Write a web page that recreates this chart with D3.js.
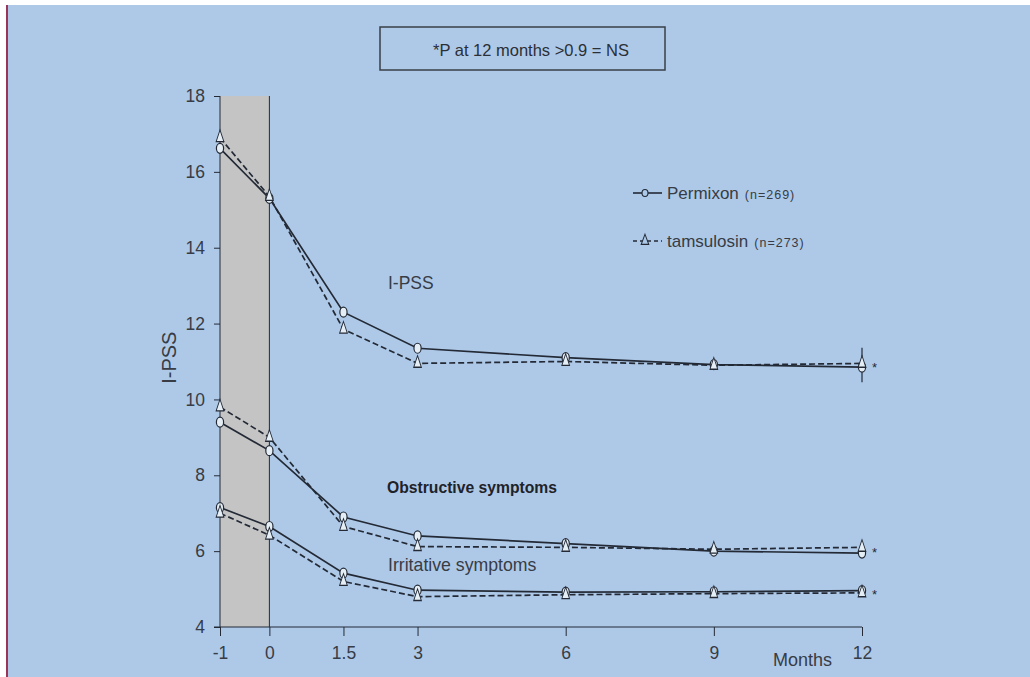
<!DOCTYPE html>
<html>
<head>
<meta charset="utf-8">
<script src="https://cdn.jsdelivr.net/npm/d3@7/dist/d3.min.js"></script>
<style>
  body { margin: 0; background: #fff; }
  svg { display: block; font-family: "Liberation Sans", Arial, sans-serif; }
</style>
</head>
<body>
<svg id="chart" width="1030" height="677"></svg>
<script>
// months of follow-up (-1 = run-in)
const months = [-1, 0, 1.5, 3, 6, 9, 12];
const xTicks = [-1, 0, 1.5, 3, 6, 9, 12];
const yTicks = [4, 6, 8, 10, 12, 14, 16, 18];

// I-PSS total
const ipssPermixon = [16.62, 15.3, 12.3, 11.35, 11.1, 10.92, 10.85];
const ipssTamsulosin = [16.9, 15.35, 11.85, 10.95, 11.0, 10.9, 10.95];
// obstructive subscore
const obstrPermixon = [9.4, 8.65, 6.9, 6.4, 6.2, 6.0, 5.95];
const obstrTamsulosin = [9.8, 9.0, 6.65, 6.12, 6.1, 6.05, 6.1];
// irritative subscore
const irritPermixon = [7.15, 6.65, 5.42, 4.97, 4.92, 4.93, 4.96];
const irritTamsulosin = [7.0, 6.42, 5.2, 4.8, 4.85, 4.88, 4.9];

// 12-month error bar on I-PSS
const ipssErr12 = [10.45, 11.36];

const svg = d3.select('#chart');
const ink = '#232a36';
const txt = '#373c45';

// page background: white edge, red rule, blue panel
svg.append('rect').attr('width', 1030).attr('height', 677).attr('fill', '#fff');
svg.append('rect').attr('x', 6).attr('y', 5).attr('width', 1024).attr('height', 672).attr('fill', '#aec9e8');
svg.append('rect').attr('x', 6).attr('y', 5).attr('width', 2).attr('height', 672).attr('fill', '#9b3558');

const x = d3.scaleLinear().domain([-1, 12]).range([220, 862]);
const y = d3.scaleLinear().domain([4, 18]).range([627, 96]);

// run-in shading
svg.append('rect')
  .attr('x', x(-1)).attr('y', y(18))
  .attr('width', x(0) - x(-1)).attr('height', y(4) - y(18))
  .attr('fill', '#c4c4c4');
svg.append('line')
  .attr('x1', x(0)).attr('x2', x(0)).attr('y1', y(18)).attr('y2', y(4))
  .attr('stroke', ink).attr('stroke-width', 1);

// axes
const yAxis = svg.append('g')
  .attr('transform', `translate(${x(-1)},0)`)
  .call(d3.axisLeft(y).tickValues(yTicks).tickSize(6).tickPadding(9));
const xAxis = svg.append('g')
  .attr('transform', `translate(0,${y(4)})`)
  .call(d3.axisBottom(x).tickValues(xTicks).tickSize(9).tickPadding(11)
    .tickFormat(d => String(d)));
[xAxis, yAxis].forEach(g => {
  g.select('.domain').attr('stroke', ink);
  g.selectAll('.tick line').attr('stroke', ink);
  g.selectAll('.tick text').attr('fill', txt).attr('font-size', 17.5);
});
xAxis.select('.domain').attr('d', `M${x(-1) - 6},0H${x(12)}`);
yAxis.select('.domain').attr('d', `M0,${y(4)}V${y(18)}`);

svg.append('text')
  .attr('transform', `translate(176,${y(11.1)}) rotate(-90)`)
  .attr('text-anchor', 'middle').attr('font-size', 20).attr('fill', txt)
  .text('I-PSS');
svg.append('text')
  .attr('x', 773).attr('y', 666).attr('font-size', 18).attr('fill', txt)
  .text('Months');

// series
const series = [
  { v: ipssPermixon, dash: null, mark: 'circle' },
  { v: ipssTamsulosin, dash: '6,3', mark: 'triangle' },
  { v: obstrPermixon, dash: null, mark: 'circle' },
  { v: obstrTamsulosin, dash: '6,3', mark: 'triangle' },
  { v: irritPermixon, dash: null, mark: 'circle' },
  { v: irritTamsulosin, dash: '6,3', mark: 'triangle' }
];

// error bar at 12 months
svg.append('line')
  .attr('x1', x(12)).attr('x2', x(12))
  .attr('y1', y(ipssErr12[0])).attr('y2', y(ipssErr12[1]))
  .attr('stroke', ink).attr('stroke-width', 1.2);

const line = d3.line().x((d, i) => x(months[i])).y(d => y(d));
series.forEach(s => {
  svg.append('path')
    .attr('d', line(s.v))
    .attr('fill', 'none').attr('stroke', ink).attr('stroke-width', 1.7)
    .attr('stroke-dasharray', s.dash);
});

const tri = d3.symbol().type(d3.symbolTriangle).size(40);
series.forEach(s => {
  const g = svg.append('g');
  s.v.forEach((d, i) => {
    if (s.mark === 'circle') {
      g.append('ellipse').attr('cx', x(months[i])).attr('cy', y(d))
        .attr('rx', 3.6).attr('ry', 5)
        .attr('fill', '#e6eef5').attr('stroke', ink).attr('stroke-width', 1.2);
    } else {
      g.append('path').attr('d', tri)
        .attr('transform', `translate(${x(months[i])},${y(d)}) scale(0.8,1.4)`)
        .attr('fill', '#e6eef5').attr('stroke', ink).attr('stroke-width', 1);
    }
  });
});

// asterisks at 12 months
[ipssPermixon, obstrPermixon, irritPermixon].forEach((v, k) => {
  const yy = k === 0 ? y(10.9) : k === 1 ? y(6.03) : y(4.93);
  svg.append('text').attr('x', 872).attr('y', yy + 7)
    .attr('font-size', 13).attr('fill', ink).text('*');
});

// curve labels
svg.append('text').attr('x', 388).attr('y', 289).attr('font-size', 17.5)
  .attr('fill', txt).text('I-PSS');
svg.append('text').attr('x', 387).attr('y', 493).attr('font-size', 15.7)
  .attr('font-weight', 'bold').attr('fill', '#1e2229').text('Obstructive symptoms');
svg.append('text').attr('x', 388).attr('y', 571).attr('font-size', 17.7)
  .attr('fill', txt).text('Irritative symptoms');

// legend
const legend = [
  { name: 'Permixon', n: '(n=269)', dash: null, mark: 'circle', y: 193 },
  { name: 'tamsulosin', n: '(n=273)', dash: '4,3', mark: 'triangle', y: 241 }
];
legend.forEach(l => {
  svg.append('line').attr('x1', 633).attr('x2', 662).attr('y1', l.y).attr('y2', l.y)
    .attr('stroke', ink).attr('stroke-width', 1.6).attr('stroke-dasharray', l.dash);
  if (l.mark === 'circle') {
    svg.append('ellipse').attr('cx', 645).attr('cy', l.y).attr('rx', 3).attr('ry', 3.5)
      .attr('fill', '#aec9e8').attr('stroke', ink).attr('stroke-width', 1.1);
  } else {
    svg.append('path').attr('d', d3.symbol().type(d3.symbolTriangle).size(30))
      .attr('transform', `translate(645,${l.y}) scale(0.9,1.4)`)
      .attr('fill', '#aec9e8').attr('stroke', ink).attr('stroke-width', 1);
  }
  const t = svg.append('text').attr('x', 667).attr('y', l.y + 6)
    .attr('font-size', 17).attr('fill', txt);
  t.append('tspan').text(l.name);
  t.append('tspan').attr('font-size', 12.5).attr('dx', 6)
    .attr('letter-spacing', 1).text(l.n);
});

// note box
svg.append('rect').attr('x', 380).attr('y', 27).attr('width', 285).attr('height', 43)
  .attr('fill', 'none').attr('stroke', '#3a3f47').attr('stroke-width', 1.5);
svg.append('text').attr('x', 531).attr('y', 56).attr('text-anchor', 'middle')
  .attr('font-size', 16.5).attr('fill', '#2b2f36').text('*P at 12 months >0.9 = NS');
</script>
</body>
</html>
